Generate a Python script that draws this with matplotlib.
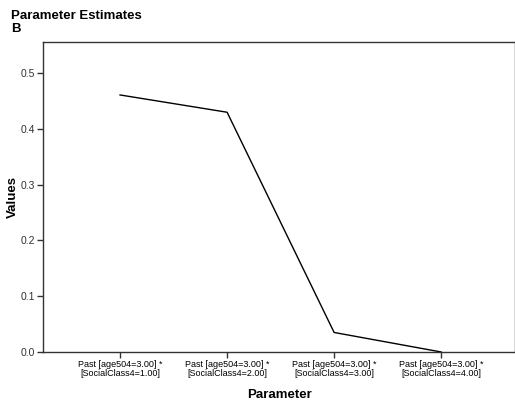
import matplotlib
matplotlib.use("Agg")
import matplotlib.pyplot as plt

plt.rcParams['font.family'] = ['Liberation Sans', 'DejaVu Sans']

parameters = ['Past [age504=3.00] *\n[SocialClass4=1.00]',
              'Past [age504=3.00] *\n[SocialClass4=2.00]',
              'Past [age504=3.00] *\n[SocialClass4=3.00]',
              'Past [age504=3.00] *\n[SocialClass4=4.00]']
values = [0.461, 0.430, 0.035, 0.0]
y_ticks = [0.0, 0.1, 0.2, 0.3, 0.4, 0.5]

fig = plt.figure(figsize=(5.15, 4.03), dpi=100)
ax = fig.add_axes([0.0835, 0.1266, 0.9165, 0.7692])

x = range(len(parameters))
ax.plot(x, values, color='black', linewidth=1.0)

ax.set_xlim(-0.72, 3.69)
ax.set_ylim(0, 0.556)
ax.set_xticks(list(x))
ax.set_xticklabels(parameters, fontsize=6.5, linespacing=0.95)
ax.set_yticks(y_ticks)
ax.set_yticklabels([f'{v:.1f}' for v in y_ticks], fontsize=7.5, color='#333333')
ax.tick_params(axis='both', length=4, width=1, color='#333333', pad=2)

for side in ['left', 'bottom', 'top', 'right']:
    ax.spines[side].set_color('#333333')
    ax.spines[side].set_linewidth(1.0)

ax.set_ylabel('Values', fontsize=9.5, fontweight='bold')
ax.yaxis.set_label_coords(-0.05, 0.5)
ax.set_xlabel('Parameter', fontsize=9.5, fontweight='bold', labelpad=8)

fig.text(0.022, 0.96, 'Parameter Estimates', fontsize=9.5, fontweight='bold', va='center')
fig.text(0.022, 0.928, 'B', fontsize=9.5, fontweight='bold', va='center')

fig.savefig('out.png', dpi=100)
